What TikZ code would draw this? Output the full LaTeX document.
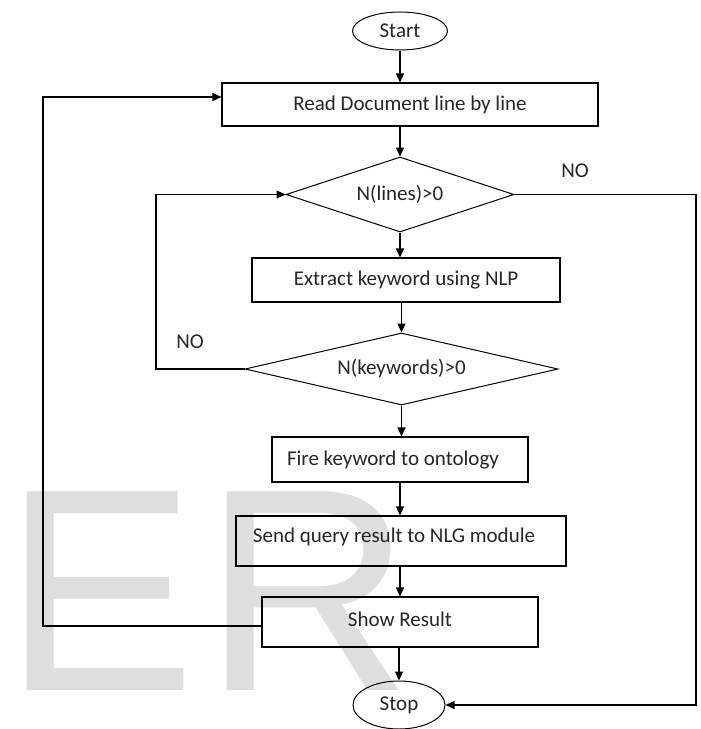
\documentclass[tikz,border=0pt]{standalone}
\usepackage{fontspec}
\setmainfont{Carlito}
\newfontfamily\wmfont{Liberation Sans}
\usetikzlibrary{shapes.geometric,arrows.meta}
\begin{document}
\begin{tikzpicture}[x=1pt,y=-1pt,
  every node/.style={font=\fontsize{21}{24}\selectfont, text=black!85},
  wmark/.style={font=\wmfont\fontsize{289}{289}\selectfont, text=black!13, anchor=base west, inner sep=0pt},
  boxnode/.style={draw, line width=1.1pt, inner sep=0pt},
  oval/.style={draw, line width=1pt, ellipse, inner sep=0pt},
  decision/.style={draw, line width=1pt, diamond, aspect=3, inner sep=0pt},
  conn/.style={line width=1.1pt, -{Triangle[length=9pt,width=8pt]}}]
\useasboundingbox (0,0) rectangle (701,729);
% watermark
\node[wmark] (wmE) at (3,690) {E};
\node[wmark] (wmR) at (203,690) {R};
% nodes
\node[oval, minimum width=95pt, minimum height=38pt] (start) at (400,31) {Start};
\node[boxnode, minimum width=376pt, minimum height=43pt] (read) at (410,104.5) {Read Document line by line};
\node[decision, minimum width=228pt, minimum height=75pt] (d1) at (400,194.5) {N(lines)>0};
\node[boxnode, minimum width=308pt, minimum height=44pt] (extract) at (406,280) {Extract keyword using NLP};
\node[decision, minimum width=313pt, minimum height=72pt] (d2) at (401.5,369) {N(keywords)>0};
\node[boxnode, minimum width=256pt, minimum height=45pt] (fire) at (400,459.5) {};
\node (firet) at (393,460) {Fire keyword to ontology};
\node[boxnode, minimum width=330pt, minimum height=50pt] (send) at (401,541) {};
\node (sendt) at (394,537) {Send query result to NLG module};
\node[boxnode, minimum width=276pt, minimum height=50pt] (show) at (400,622) {};
\node (showt) at (400,619) {Show Result};
\node[oval, minimum width=92pt, minimum height=48pt] (stop) at (399,705) {Stop};
\node (no1) at (575,171) {NO};
\node (no2) at (190,342) {NO};
% connectors
\draw[conn] (start) -- (start |- read.north);
\draw[conn] (read.south -| d1.north) -- (d1.north);
\draw[conn] (d1.south) -- (extract.north -| d1.south);
\draw[conn] (extract.south -| d2.north) -- (d2.north);
\draw[conn] (d2.south) -- (d2.south |- fire.north);
\draw[conn] (fire.south) -- (send.north -| fire.south);
\draw[conn] (send.south -| fire.south) -- (show.north -| fire.south);
\draw[conn] (show.south -| stop.north) -- (stop.north);
\coordinate (l1) at (43,626);
\coordinate (l2) at (43,97);
\draw[conn] (show.west |- l1) -- (l1) -- (l2) -- (read.west |- l2);
\coordinate (k1) at (156,0);
\draw[conn] (d2.west) -- (d2.west -| k1) -- (d1.west -| k1) -- (d1.west);
\coordinate (r1) at (696,0);
\draw[conn] (d1.east) -- (d1.east -| r1) -- (r1 |- stop.east) -- (stop.east);
\end{tikzpicture}
\end{document}
